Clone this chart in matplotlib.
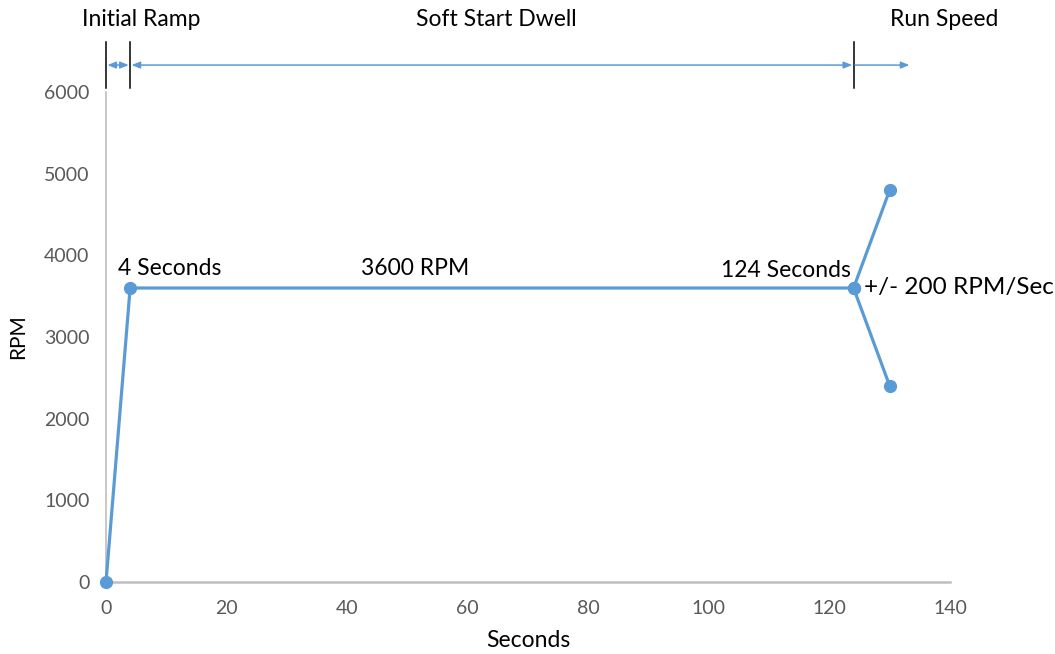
import matplotlib.pyplot as plt
import matplotlib.transforms as mtransforms

plt.rcParams['font.family'] = ['Lato', 'DejaVu Sans']

# data
seconds = [0, 4, 124, 130]
rpm = [0, 3600, 3600, 4800]
low_seconds = [124, 130]
low_rpm = [3600, 2400]

phase_edges = [0, 4, 124]
run_end = 133.5
phase_names = ['Initial Ramp', 'Soft Start Dwell', 'Run Speed']
phase_label_x = [5.8, 64.8, 139]

blue = '#5B9BD5'
gray = '#595959'

fig = plt.figure(figsize=(10.55, 6.54), dpi=100)
ax = fig.add_axes([0.1005, 0.1101, 0.8, 0.7492])

ax.plot(seconds, rpm, color=blue, lw=2.3, marker='o', ms=8.5, clip_on=False, zorder=3)
ax.plot(low_seconds, low_rpm, color=blue, lw=2.3, marker='o', ms=8.5, clip_on=False, zorder=3)

ax.set_xlim(0, 140)
ax.set_ylim(0, 6000)
ax.set_xticks(range(0, 141, 20))
ax.set_yticks(range(0, 6001, 1000))
ax.tick_params(length=0, labelsize=14, colors=gray)
ax.tick_params(axis='x', pad=13)
ax.tick_params(axis='y', pad=12)
for s in ['top', 'right']:
    ax.spines[s].set_visible(False)
ax.spines['left'].set_color('#BFBFBF')
ax.spines['left'].set_linewidth(1.2)
ax.spines['bottom'].set_color('#BFBFBF')
ax.spines['bottom'].set_linewidth(1.8)

ax.set_xlabel('Seconds', fontsize=16.5, labelpad=9)
ax.set_ylabel('RPM', fontsize=15, labelpad=11)

# point annotations
fs = 16.5
ax.text(seconds[1] - 2, rpm[1] + 110, '4 Seconds', fontsize=fs, ha='left', va='bottom')
ax.text(51.3, rpm[1] + 110, '3600 RPM', fontsize=fs, ha='center', va='bottom')
ax.text(seconds[2] - 0.5, rpm[2] + 90, '124 Seconds', fontsize=fs, ha='right', va='bottom')
ax.text(seconds[2] + 1.8, rpm[2] + 10, '+/- 200 RPM/Sec', fontsize=17.5, ha='left', va='center')

# phase markers above the plot
trans = mtransforms.blended_transform_factory(ax.transData, ax.transAxes)
for x in phase_edges:
    ax.plot([x, x], [1.008, 1.102], color='black', lw=1.1, transform=trans, clip_on=False)

arrow_y = 1.055
segs = [(phase_edges[0], phase_edges[1], '<|-|>'),
        (phase_edges[1], phase_edges[2], '<|-|>'),
        (phase_edges[2], run_end, '-|>')]
for x0, x1, style in segs:
    ax.annotate('', xy=(x1, arrow_y), xytext=(x0, arrow_y), xycoords=trans, textcoords=trans,
                arrowprops=dict(arrowstyle=style + ',head_length=0.5,head_width=0.2',
                                color=blue, lw=1.1, shrinkA=1, shrinkB=1),
                annotation_clip=False)

for name, x in zip(phase_names, phase_label_x):
    ax.text(x, 1.147, name, fontsize=fs, ha='center', va='center', transform=trans)

fig.savefig('out.png', dpi=100)
